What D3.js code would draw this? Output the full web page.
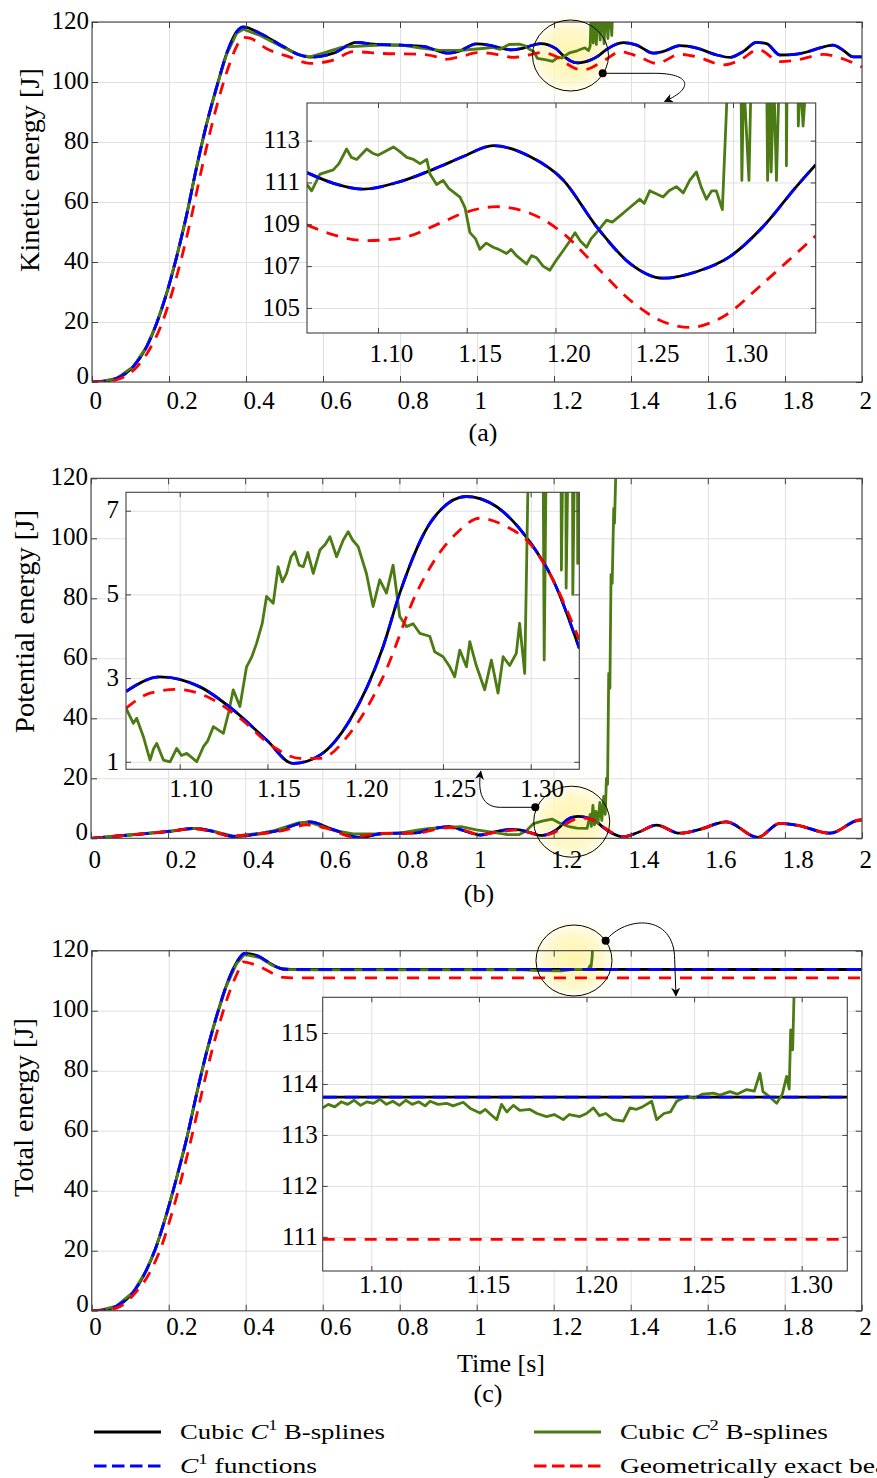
<!DOCTYPE html>
<html><head><meta charset="utf-8">
<script src="https://cdn.jsdelivr.net/npm/d3@7"></script>
<style>
body{margin:0;background:#fff}
svg{display:block}
svg text{font-family:"Liberation Serif","Times New Roman",serif;fill:#000}
</style>
</head><body>
<script>
// ---------------- DATA ----------------
const mainXTicks = [0,0.2,0.4,0.6,0.8,1,1.2,1.4,1.6,1.8,2];
const mainYTicks = [0,20,40,60,80,100,120];
const insetXTicks = [1.10,1.15,1.20,1.25,1.30];
const kinInsetYTicks = [105,107,109,111,113];
const potInsetYTicks = [1,3,5,7];
const totInsetYTicks = [111,112,113,114,115];
const legendLabels = ["Cubic C1 B-splines","Cubic C2 B-splines","C1 functions","Geometrically exact beam"];

// (a) kinetic energy [t, E]
const kineticC1 = [[0,0],[0.02,0.1],[0.064,1.2],[0.107,5.1],[0.142,11.8],[0.168,19.6],[0.194,29.6],[0.22,41.8],[0.246,55.8],[0.272,71.8],[0.298,86.2],[0.324,98.4],[0.35,109.6],[0.376,116.8],[0.393,118.4],[0.437,116.2],[0.497,111.8],[0.54,109],[0.566,108.3],[0.627,109.6],[0.687,113.2],[0.731,112.6],[0.8,112.3],[0.86,111.9],[0.9,110.3],[0.925,109.6],[0.95,110.1],[0.999,112.7],[1.03,112.3],[1.06,111.4],[1.09,110.7],[1.12,111.3],[1.165,112.8],[1.205,111.1],[1.223,108.9],[1.242,107.1],[1.261,106.4],[1.28,106.7],[1.298,107.5],[1.317,108.9],[1.336,110.8],[1.36,112.5],[1.38,113.1],[1.415,112.3],[1.458,109.6],[1.484,110.2],[1.527,112.1],[1.571,111.3],[1.623,109],[1.657,108.2],[1.692,110.2],[1.726,113.2],[1.752,112.8],[1.787,109],[1.83,109.3],[1.857,110],[1.891,111.4],[1.925,112.3],[1.951,110.6],[1.977,108.4],[2,108.4]];
const kineticC1Fn = [[0,0],[0.02,0.1],[0.064,1.2],[0.107,5.1],[0.142,11.8],[0.168,19.6],[0.194,29.6],[0.22,41.8],[0.246,55.8],[0.272,71.8],[0.298,86.2],[0.324,98.4],[0.35,109.6],[0.376,116.8],[0.393,118.3],[0.437,116.2],[0.497,111.8],[0.54,109],[0.566,108.3],[0.627,109.6],[0.687,113.2],[0.731,112.6],[0.8,112.3],[0.86,111.9],[0.9,110.3],[0.925,109.6],[0.95,110.1],[0.999,112.7],[1.03,112.3],[1.06,111.4],[1.09,110.7],[1.12,111.3],[1.165,112.8],[1.205,111.1],[1.223,108.9],[1.242,107.1],[1.261,106.4],[1.28,106.7],[1.298,107.5],[1.317,108.9],[1.336,110.8],[1.36,112.5],[1.38,113.1],[1.415,112.3],[1.458,109.6],[1.484,110.2],[1.527,112.1],[1.571,111.3],[1.623,109],[1.657,108.2],[1.692,110.2],[1.726,113.2],[1.752,112.8],[1.787,109],[1.83,109.3],[1.857,110],[1.891,111.4],[1.925,112.3],[1.951,110.6],[1.977,108.4],[2,108.4]];
const kineticC2 = [[0,0],[0.02,0.1],[0.064,1.2],[0.107,5.1],[0.142,11.8],[0.168,19.6],[0.194,29.6],[0.22,41.8],[0.246,55.8],[0.272,71.8],[0.298,86.2],[0.324,98.4],[0.35,109.4],[0.376,116.3],[0.393,117.6],[0.437,115.5],[0.497,111.5],[0.54,109],[0.566,108.4],[0.6,109.6],[0.65,111.6],[0.7,112],[0.75,112.3],[0.8,112.4],[0.85,111.4],[0.9,110.6],[0.95,110.5],[1.0,111],[1.04,111.5],[1.06,110.9],[1.083,112.5],[1.11,112.6],[1.127,112],[1.135,111],[1.147,110.2],[1.157,107.9],[1.18,107.4],[1.197,106.9],[1.21,108.3],[1.22,108],[1.24,109.7],[1.26,110.4],[1.28,111.4],[1.29,110.5],[1.294,112],[1.297,126],[1.302,113],[1.306,126],[1.31,112.5],[1.315,126],[1.32,114],[1.325,126],[1.33,112.8],[1.335,126],[1.34,114.5],[1.345,126],[1.35,115.5],[1.353,126]];
const kineticGeo = [[0,0],[0.03,0.1],[0.07,1],[0.11,4.2],[0.15,11],[0.18,19],[0.205,28.5],[0.232,41],[0.258,55],[0.284,70.5],[0.31,85],[0.336,97.5],[0.36,107],[0.378,112.5],[0.392,114.9],[0.41,114.6],[0.454,111.1],[0.514,108.3],[0.566,106.2],[0.627,107.3],[0.679,110.1],[0.757,109.5],[0.843,109.3],[0.895,108.4],[0.913,107.5],[0.965,108.7],[1.0,109.8],[1.03,109.6],[1.06,109],[1.094,108.2],[1.135,109],[1.167,109.8],[1.204,108.6],[1.223,107],[1.242,105.4],[1.261,104.3],[1.276,104.1],[1.294,104.6],[1.317,106.2],[1.336,107.6],[1.371,110.1],[1.415,108.7],[1.467,106.2],[1.527,109.2],[1.571,108.4],[1.64,105.7],[1.683,107.3],[1.731,110.8],[1.787,106.8],[1.83,107.3],[1.9,109.2],[1.934,108.4],[2,105]];
// (a) inset
const kinInsetC1 = [[1.06,111.47],[1.075,110.96],[1.0917,110.68],[1.1124,111.04],[1.1349,111.76],[1.148,112.24],[1.1649,112.76],[1.1856,112.24],[1.2043,111.12],[1.2231,108.89],[1.2419,107.13],[1.2606,106.42],[1.2794,106.73],[1.2982,107.45],[1.317,108.89],[1.3357,110.8],[1.3466,111.85]];
const kinInsetC1Fn = [[1.06,111.47],[1.075,110.96],[1.0917,110.68],[1.1124,111.04],[1.1349,111.76],[1.148,112.24],[1.1649,112.76],[1.1856,112.24],[1.2043,111.12],[1.2231,108.89],[1.2419,107.13],[1.2606,106.42],[1.2794,106.73],[1.2982,107.45],[1.317,108.89],[1.3357,110.8],[1.3466,111.85]];
const kinInsetGeo = [[1.06,108.97],[1.075,108.49],[1.0936,108.22],[1.1124,108.33],[1.1349,109.05],[1.148,109.53],[1.1668,109.84],[1.1856,109.53],[1.2043,108.57],[1.2231,106.97],[1.2419,105.38],[1.2606,104.34],[1.2756,104.07],[1.2944,104.58],[1.317,106.18],[1.3357,107.61],[1.3466,108.45]];
const kinInsetC2 = [[1.06,110.9],[1.0626,110.6],[1.0673,111.4],[1.0748,111.6],[1.078,111.9],[1.0823,112.6],[1.085,112.2],[1.088,112.1],[1.0936,112.6],[1.097,112.4],[1.1,112.3],[1.1087,112.7],[1.112,112.5],[1.1162,112.2],[1.12,112.1],[1.1237,111.9],[1.1275,112.1],[1.1293,111.4],[1.133,110.9],[1.1367,111.1],[1.14,110.7],[1.1462,110.3],[1.149,109.8],[1.1518,108.6],[1.155,108.3],[1.1574,107.8],[1.161,108.1],[1.1649,107.9],[1.168,107.8],[1.1724,107.6],[1.175,107.8],[1.178,107.5],[1.1837,107.1],[1.1865,107.5],[1.1893,107.4],[1.193,107.0],[1.1968,106.8],[1.2006,107.3],[1.204,107.7],[1.2081,108.2],[1.211,108.6],[1.214,108.2],[1.2175,107.9],[1.22,108.3],[1.2231,108.6],[1.2288,109.2],[1.232,109.1],[1.2363,109.4],[1.2419,109.8],[1.2475,110.2],[1.25,110.0],[1.2531,110.6],[1.2606,110.3],[1.264,110.6],[1.2681,110.8],[1.272,110.5],[1.2756,111.1],[1.2794,111.5],[1.282,110.8],[1.285,110.2],[1.288,110.6],[1.2906,110.6],[1.294,109.7],[1.2962,114.2],[1.297,116],[1.3045,116],[1.305,111.1],[1.306,116],[1.309,111.1],[1.3102,116],[1.319,116],[1.3195,111.1],[1.321,116],[1.3215,111.5],[1.323,116],[1.3245,111.1],[1.326,116],[1.33,116],[1.3301,111.8],[1.3305,116],[1.3366,116],[1.3368,113.7],[1.338,116],[1.3395,113.7],[1.3413,116]];

// (b) potential energy
const potentialC1 = [[0,0],[0.1,1.1],[0.196,2.2],[0.27,3.3],[0.32,2.2],[0.37,0.6],[0.44,1.6],[0.475,2.3],[0.568,5.5],[0.63,2.8],[0.698,0.3],[0.757,1.6],[0.843,1.8],[0.879,3],[0.931,3.9],[0.966,2.6],[1.01,1.1],[1.05,2.2],[1.089,3],[1.112,2.8],[1.13,2.2],[1.15,1.5],[1.165,0.96],[1.18,1.16],[1.197,2],[1.216,3.75],[1.225,5],[1.244,6.8],[1.263,7.34],[1.28,7.1],[1.299,6.26],[1.313,5.35],[1.328,3.7],[1.381,0.5],[1.42,2],[1.467,4.4],[1.527,1.7],[1.58,3],[1.648,5.5],[1.73,0.3],[1.787,5],[1.83,4.4],[1.917,1.7],[1.995,6.1],[2,6.1]];
const potentialC1Fn = [[0,0],[0.1,1.1],[0.196,2.2],[0.27,3.3],[0.32,2.2],[0.37,0.6],[0.44,1.6],[0.475,2.3],[0.568,5.5],[0.63,2.8],[0.698,0.3],[0.757,1.6],[0.843,1.8],[0.879,3],[0.931,3.9],[0.966,2.6],[1.01,1.1],[1.05,2.2],[1.089,3],[1.112,2.8],[1.13,2.2],[1.15,1.5],[1.165,0.96],[1.18,1.16],[1.197,2],[1.216,3.75],[1.225,5],[1.244,6.8],[1.263,7.34],[1.28,7.1],[1.299,6.26],[1.313,5.35],[1.328,3.7],[1.381,0.5],[1.42,2],[1.467,4.4],[1.527,1.7],[1.58,3],[1.648,5.5],[1.73,0.3],[1.787,5],[1.83,4.4],[1.917,1.7],[1.995,6.1],[2,6.1]];
const potentialGeo = [[0,0],[0.1,1.1],[0.2,2.2],[0.265,3.2],[0.32,2.0],[0.36,0.8],[0.44,1.5],[0.5,2.6],[0.56,4.5],[0.62,3.0],[0.68,0.5],[0.75,1.6],[0.85,1.8],[0.9,3.1],[0.93,3.6],[0.97,2.6],[1.01,1.2],[1.05,2.0],[1.0694,2.3],[1.098,2.73],[1.134,2.04],[1.153,1.36],[1.172,1.05],[1.197,1.7],[1.216,3.0],[1.235,5],[1.258,6.46],[1.271,6.82],[1.286,6.62],[1.311,5.5],[1.328,3.9],[1.381,0.5],[1.42,2],[1.467,4.4],[1.527,1.7],[1.58,3],[1.648,5.5],[1.73,0.3],[1.787,5],[1.83,4.4],[1.917,1.7],[1.995,6.1],[2,6.1]];
const potentialC2 = [[0,0],[0.1,1.1],[0.196,2.3],[0.27,3.3],[0.32,2.2],[0.37,0.7],[0.44,1.7],[0.475,2.6],[0.54,5.2],[0.568,5.3],[0.63,2.6],[0.68,1.5],[0.75,1.5],[0.8,1.7],[0.85,2.8],[0.879,3.3],[0.96,3.9],[1.0,2.8],[1.053,1.8],[1.08,1.2],[1.11,1.2],[1.13,2.6],[1.148,4.9],[1.17,5.7],[1.196,6.4],[1.215,5.1],[1.237,4.0],[1.26,3.4],[1.287,3.3],[1.295,8],[1.298,4],[1.302,11],[1.306,4.5],[1.31,9],[1.315,5],[1.32,12],[1.325,6],[1.33,14],[1.334,8],[1.337,20],[1.34,18],[1.343,55],[1.346,50],[1.349,88],[1.352,85],[1.356,110],[1.358,105],[1.362,125]];
// (b) inset
const potInsetC1 = [[1.0694,2.68],[1.0888,3.03],[1.1115,2.79],[1.1305,2.24],[1.1495,1.52],[1.1647,0.96],[1.1799,1.16],[1.197,2],[1.2159,3.75],[1.2254,5.03],[1.2434,6.75],[1.2633,7.34],[1.2804,7.1],[1.2994,6.26],[1.3127,5.35],[1.3277,3.71]];
const potInsetC1Fn = [[1.0694,2.68],[1.0888,3.03],[1.1115,2.79],[1.1305,2.24],[1.1495,1.52],[1.1647,0.96],[1.1799,1.16],[1.197,2],[1.2159,3.75],[1.2254,5.03],[1.2434,6.75],[1.2633,7.34],[1.2804,7.1],[1.2994,6.26],[1.3127,5.35],[1.3277,3.71]];
const potInsetGeo = [[1.0694,2.28],[1.0831,2.64],[1.0983,2.73],[1.1154,2.56],[1.1343,2.04],[1.1533,1.36],[1.1685,1.08],[1.1799,1.08],[1.197,1.68],[1.2159,3.03],[1.2349,5.03],[1.2482,6.0],[1.2577,6.46],[1.271,6.82],[1.2862,6.62],[1.2994,6.22],[1.3108,5.5],[1.3277,3.91]];
const potInsetC2 = [[1.0694,2.28],[1.0736,1.92],[1.0755,2.04],[1.0793,1.6],[1.0831,1.04],[1.085,1.3],[1.0869,1.44],[1.0907,1.04],[1.0945,1.0],[1.0983,1.32],[1.101,1.15],[1.104,1.2],[1.107,1.1],[1.1097,1.0],[1.1135,1.36],[1.116,1.5],[1.1192,1.84],[1.1249,1.68],[1.128,2.2],[1.1305,2.72],[1.1343,2.32],[1.1381,3.27],[1.141,3.5],[1.1438,3.83],[1.147,4.3],[1.1495,4.95],[1.1533,4.79],[1.1561,5.66],[1.1585,5.3],[1.1609,5.5],[1.1635,5.9],[1.1656,6.02],[1.168,5.7],[1.1704,5.66],[1.173,6.0],[1.1761,5.5],[1.1799,6.06],[1.183,6.2],[1.1856,6.38],[1.1894,5.9],[1.1932,6.3],[1.196,6.5],[1.1985,6.3],[1.2017,6.14],[1.2064,5.5],[1.2102,4.71],[1.214,5.35],[1.2178,5.03],[1.2216,5.7],[1.2254,4.47],[1.2292,4.23],[1.233,4.3],[1.2368,4.07],[1.2425,4.0],[1.2453,3.63],[1.2501,3.51],[1.2539,3.27],[1.2567,3.03],[1.2596,3.67],[1.2634,3.27],[1.2653,3.87],[1.269,3.3],[1.2738,2.72],[1.2776,3.43],[1.2814,2.64],[1.2843,3.51],[1.288,3.3],[1.2918,3.59],[1.2937,4.31],[1.2966,3.11],[1.2975,5.27],[1.299,9],[1.307,9],[1.3077,3.43],[1.309,9],[1.3172,9],[1.3175,5.58],[1.3185,9],[1.32,9],[1.3202,5.15],[1.3215,9],[1.3238,9],[1.324,5.0],[1.3252,9],[1.3266,9],[1.3268,5.74],[1.328,9]];

// (c) total energy
const totalC1 = [[0,0],[0.02,0.1],[0.064,1.5],[0.108,6.2],[0.142,13.5],[0.168,21.5],[0.194,32],[0.22,44],[0.246,57],[0.272,72],[0.298,86],[0.324,98],[0.35,108.5],[0.376,116],[0.397,119.1],[0.436,118],[0.471,115.2],[0.497,113.9],[0.52,113.75],[2,113.74]];
const totalC1Fn = [[0,0],[0.02,0.1],[0.064,1.5],[0.108,6.2],[0.142,13.5],[0.168,21.5],[0.194,32],[0.22,44],[0.246,57],[0.272,72],[0.298,86],[0.324,98],[0.35,108.5],[0.376,116],[0.397,119.1],[0.436,118],[0.471,115.2],[0.497,113.9],[0.52,113.75],[2,113.74]];
const totalGeo = [[0,0],[0.03,0.1],[0.07,1.2],[0.11,5.5],[0.15,12.5],[0.18,21],[0.205,31],[0.232,43.5],[0.258,57],[0.284,71.5],[0.31,85.5],[0.336,97.5],[0.36,107],[0.38,113],[0.393,116.3],[0.42,115.5],[0.454,113.6],[0.48,111.8],[0.497,111.1],[0.52,110.95],[2,110.95]];
const totalC2 = [[0,0],[0.02,0.1],[0.064,1.5],[0.108,6.2],[0.142,13.5],[0.168,21.5],[0.194,32],[0.22,44],[0.246,57],[0.272,72],[0.298,86],[0.324,98],[0.35,108.3],[0.376,115.6],[0.397,118.8],[0.436,117.7],[0.471,115],[0.497,113.8],[0.55,113.6],[1.12,113.65],[1.16,113.35],[1.22,113.3],[1.25,113.75],[1.29,113.85],[1.294,115],[1.297,114.6],[1.3,118],[1.302,126]];
// (c) inset
const totInsetC1 = [[1.0774,113.74],[1.3212,113.74]];
const totInsetC1Fn = [[1.0774,113.74],[1.3212,113.74]];
const totInsetGeo = [[1.0774,110.95],[1.3212,110.95]];
const totInsetC2 = [[1.0774,113.53],[1.08,113.6],[1.083,113.55],[1.086,113.65],[1.089,113.6],[1.092,113.68],[1.095,113.58],[1.098,113.65],[1.101,113.62],[1.104,113.7],[1.107,113.6],[1.11,113.66],[1.113,113.58],[1.116,113.68],[1.119,113.6],[1.122,113.65],[1.125,113.57],[1.1273,113.66],[1.131,113.6],[1.135,113.62],[1.138,113.57],[1.1427,113.64],[1.146,113.52],[1.1505,113.43],[1.153,113.5],[1.1555,113.4],[1.1583,113.3],[1.1605,113.6],[1.163,113.45],[1.166,113.58],[1.169,113.48],[1.1737,113.5],[1.177,113.42],[1.1814,113.36],[1.185,113.4],[1.1892,113.3],[1.192,113.4],[1.1969,113.36],[1.2,113.42],[1.2032,113.53],[1.206,113.38],[1.209,113.42],[1.2125,113.3],[1.2171,113.27],[1.2202,113.53],[1.223,113.5],[1.226,113.55],[1.2303,113.66],[1.2326,113.3],[1.236,113.42],[1.239,113.45],[1.2419,113.66],[1.2466,113.76],[1.25,113.72],[1.254,113.8],[1.2589,113.82],[1.262,113.78],[1.2667,113.85],[1.27,113.8],[1.2744,113.89],[1.278,113.86],[1.2806,114.21],[1.282,113.85],[1.285,113.75],[1.2884,113.62],[1.291,113.8],[1.293,114.15],[1.2942,113.9],[1.2949,115.06],[1.2958,114.67],[1.2969,116.5]];

// ---------------- DRAWING ----------------
const W = 877, H = 1478;
const FONT = '"Liberation Serif","Times New Roman",serif';
const GRID = '#e0e0e0', FRAME = '#404040';
const COL = {c1:'#000000', c2:'#4b7b12', fn:'#0000ff', geo:'#ff0000'};
const LW = 2.8;
const svg = d3.select('body').append('svg').attr('width', W).attr('height', H);
const defs = svg.append('defs');

defs.append('marker').attr('id','arr').attr('viewBox','0 0 10 10').attr('refX',9).attr('refY',5)
  .attr('markerWidth',9).attr('markerHeight',9).attr('markerUnits','userSpaceOnUse').attr('orient','auto')
  .append('path').attr('d','M0,0 L10,5 L0,10 L3,5 Z').attr('fill','#000');

const glow = defs.append('radialGradient').attr('id','glow');
[[0,'#fff3a6',0.95],[0.55,'#fff6bd',0.8],[0.78,'#fffad8',0.45],[1,'#ffffff',0]].forEach(s =>
  glow.append('stop').attr('offset', s[0]).attr('stop-color', s[1]).attr('stop-opacity', s[2]));

function styleGrid(s){ s.select('.domain').remove(); s.selectAll('line').attr('stroke', GRID).attr('stroke-width',1); }

function drawGrid(g, x, y, b, xt, yt){
  g.append('g').attr('transform',`translate(0,${b.y1})`)
    .call(d3.axisBottom(x).tickValues(xt).tickSize(-(b.y1-b.y0)).tickFormat('')).call(styleGrid);
  g.append('g').attr('transform',`translate(${b.x0},0)`)
    .call(d3.axisLeft(y).tickValues(yt).tickSize(-(b.x1-b.x0)).tickFormat('')).call(styleGrid);
}

function drawSeries(g, x, y, series){
  series.forEach(s => {
    const line = d3.line().x(d => x(d[0])).y(d => y(d[1])).curve(s.curve || d3.curveMonotoneX);
    g.append('path').datum(s.data).attr('d', line).attr('fill','none')
      .attr('stroke', s.color).attr('stroke-width', s.w || LW)
      .attr('stroke-dasharray', s.dash || null).attr('stroke-linejoin','round');
  });
}

function drawFrame(g, x, y, b, xt, yt, tl, o){
  const fontSize = 25;
  const gb = g.append('g').attr('transform',`translate(0,${b.y1})`)
    .call(d3.axisBottom(x).tickValues(xt).tickSizeInner(-tl).tickSizeOuter(0).tickFormat(o.xfmt));
  gb.attr('font-family', null).attr('font-size', null);
  gb.select('.domain').remove();
  gb.selectAll('line').attr('stroke', FRAME);
  gb.selectAll('text').attr('y', o.xBase).attr('dy', null).attr('x', o.xdx)
    .attr('text-anchor', o.xAnchor).style('font-size', fontSize+'px').style('font-family', FONT);
  const gt = g.append('g').attr('transform',`translate(0,${b.y0})`)
    .call(d3.axisTop(x).tickValues(xt).tickSizeInner(-tl).tickSizeOuter(0).tickFormat(''));
  gt.select('.domain').remove(); gt.selectAll('line').attr('stroke', FRAME);
  const gl = g.append('g').attr('transform',`translate(${b.x0},0)`)
    .call(d3.axisLeft(y).tickValues(yt).tickSizeInner(-tl).tickSizeOuter(0).tickFormat(o.yfmt));
  gl.attr('font-family', null).attr('font-size', null);
  gl.select('.domain').remove(); gl.selectAll('line').attr('stroke', FRAME);
  gl.selectAll('text').attr('x', -o.yPad).attr('dy','0.33em').attr('text-anchor','end')
    .style('font-size', fontSize+'px').style('font-family', FONT)
    .attr('y', d => (o.zeroShift && d === 0) ? -o.zeroShift : -o.yShift);
  const gr = g.append('g').attr('transform',`translate(${b.x1},0)`)
    .call(d3.axisRight(y).tickValues(yt).tickSizeInner(-tl).tickSizeOuter(0).tickFormat(''));
  gr.select('.domain').remove(); gr.selectAll('line').attr('stroke', FRAME);
  g.append('rect').attr('x', b.x0).attr('y', b.y0).attr('width', b.x1-b.x0).attr('height', b.y1-b.y0)
    .attr('fill','none').attr('stroke', FRAME).attr('stroke-width', 1.1);
}

let clipN = 0;
function clipRect(b){
  const id = 'clip' + (clipN++);
  defs.append('clipPath').attr('id', id).append('rect')
    .attr('x', b.x0).attr('y', b.y0).attr('width', b.x1-b.x0).attr('height', b.y1-b.y0);
  return `url(#${id})`;
}

function makeSeries(c1, c2, fn, geo, greenCurve){
  return [
    {data:c1, color:COL.c1},
    {data:c2, color:COL.c2, curve: greenCurve},
    {data:fn, color:COL.fn, dash:'14,8'},
    {data:geo, color:COL.geo, dash:'12,9'}
  ];
}

// rotated axis title stretched to the measured length
function axisTitle(g, cx, cy, label, target){
  const t = g.append('text').attr('x',0).attr('y',0).attr('text-anchor','middle')
    .attr('dominant-baseline','central').style('font-size','27px').text(label);
  const w = t.node().getComputedTextLength();
  t.attr('transform', `translate(${cx},${cy}) rotate(-90) scale(${target / w},1)`);
}

const fmtMain = d3.format('~g');
const fmtInset = d3.format('.2f');

const panels = [
  { b:{x0:92,x1:862,y0:22,y1:382}, xBase:27,
    series: makeSeries(kineticC1, kineticC2, kineticC1Fn, kineticGeo, d3.curveLinear),
    ylab:'Kinetic energy [J]', ylabPos:[30,170], ylabLen:204, cap:'(a)', capPos:[483,441],
    inset:{ b:{x0:307,x1:815.7,y0:103,y1:333}, xd:[1.06,1.3466], yd:[103.8,114.8], yt:kinInsetYTicks,
      xdx:13, xBase:29, yPad:7,
      series: makeSeries(kinInsetC1, kinInsetC2, kinInsetC1Fn, kinInsetGeo, d3.curveLinear)},
    spy:{c:[1.2429,108.83], dot:[1.3265,102.9], arrow:(d)=>`M${d[0]},${d[1]} L${d[0]+52},${d[1]} C${d[0]+88},${d[1]} ${d[0]+92},${d[1]+15} ${d[0]+62},${d[1]+28}`}
  },
  { b:{x0:91,x1:862,y0:478.3,y1:838.3}, xBase:30,
    series: makeSeries(potentialC1, potentialC2, potentialC1Fn, potentialGeo, d3.curveLinear),
    ylab:'Potential energy [J]', ylabPos:[25,621.5], ylabLen:223, cap:'(b)', capPos:[479,902],
    inset:{ b:{x0:126,x1:579.3,y0:492.3,y1:769.3}, xd:[1.0694,1.3277], yd:[0.82,7.44], yt:potInsetYTicks,
      xdx:11, xBase:28, yPad:7,
      series: makeSeries(potInsetC1, potInsetC2, potInsetC1Fn, potInsetGeo, d3.curveLinear)},
    spy:{c:[1.247,5.53], dot:[1.1525,10.33], arrow:(d)=>`M${d[0]},${d[1]} L${d[0]-35},${d[1]} C${d[0]-53},${d[1]} ${d[0]-58},${d[1]-15} ${d[0]-54.5},${d[1]-36}`}
  },
  { b:{x0:91.7,x1:861.7,y0:950.7,y1:1310.7}, xBase:24.5,
    series: makeSeries(totalC1, totalC2, totalC1Fn, totalGeo, d3.curveLinear),
    ylab:'Total energy [J]', ylabPos:[24,1107.5], ylabLen:179, cap:'(c)', capPos:[488,1402], xlab:'Time [s]', xlabPos:[501,1372],
    inset:{ b:{x0:322.7,x1:847.3,y0:997.3,y1:1271}, xd:[1.0774,1.3212], yd:[110.33,115.7], yt:totInsetYTicks,
      xdx:9, xBase:22, yPad:5,
      series: makeSeries(totInsetC1, totInsetC2, totInsetC1Fn, totInsetGeo, d3.curveLinear)},
    spy:{c:[1.2527,116.73], dot:[1.335,123.3], arrow:(d)=>`M${d[0]},${d[1]} C${d[0]+19},${d[1]-25} ${d[0]+69},${d[1]-28} ${d[0]+69},${d[1]+19} L${d[0]+70.3},${d[1]+55}`}
  }
];

panels.forEach(p => {
  const b = p.b;
  const x = d3.scaleLinear().domain([0,2]).range([b.x0, b.x1]);
  const y = d3.scaleLinear().domain([0,120]).range([b.y1, b.y0]);
  const g = svg.append('g');
  drawGrid(g, x, y, b, mainXTicks, mainYTicks);
  const cx = x(p.spy.c[0]), cy = y(p.spy.c[1]);
  g.append('ellipse').attr('cx', cx).attr('cy', cy).attr('rx', 50).attr('ry', 47).attr('fill','url(#glow)');
  const cg = g.append('g').attr('clip-path', clipRect(b));
  drawSeries(cg, x, y, p.series);
  drawFrame(g, x, y, b, mainXTicks, mainYTicks, 6,
    {xfmt: fmtMain, yfmt: fmtMain, xBase: p.xBase, xdx: -3, xAnchor:'start', yPad: 3, yShift: 2, zeroShift: 7});
  g.append('ellipse').attr('cx', cx).attr('cy', cy).attr('rx', 38).attr('ry', 35.5)
    .attr('fill','none').attr('stroke','#000').attr('stroke-width',1);
  axisTitle(g, p.ylabPos[0], p.ylabPos[1], p.ylab, p.ylabLen);
  g.append('text').attr('x', p.capPos[0]).attr('y', p.capPos[1]).attr('text-anchor','middle')
    .style('font-size','26px').text(p.cap);
  if (p.xlab) g.append('text').attr('x', p.xlabPos[0]).attr('y', p.xlabPos[1]).attr('text-anchor','middle')
    .style('font-size','26px').text(p.xlab);

  const ib = p.inset.b;
  const ix = d3.scaleLinear().domain(p.inset.xd).range([ib.x0, ib.x1]);
  const iy = d3.scaleLinear().domain(p.inset.yd).range([ib.y1, ib.y0]);
  const ig = svg.append('g');
  ig.append('rect').attr('x', ib.x0).attr('y', ib.y0).attr('width', ib.x1-ib.x0).attr('height', ib.y1-ib.y0).attr('fill','#fff');
  drawGrid(ig, ix, iy, ib, insetXTicks, p.inset.yt);
  const icg = ig.append('g').attr('clip-path', clipRect(ib));
  drawSeries(icg, ix, iy, p.inset.series);
  drawFrame(ig, ix, iy, ib, insetXTicks, p.inset.yt, 5,
    {xfmt: fmtInset, yfmt: d3.format('d'), xBase: p.inset.xBase, xdx: p.inset.xdx, xAnchor:'middle', yPad: p.inset.yPad, yShift: 1});

  const dot = [x(p.spy.dot[0]), y(p.spy.dot[1])];
  svg.append('path').attr('d', p.spy.arrow(dot)).attr('fill','none').attr('stroke','#000')
    .attr('stroke-width',1).attr('marker-end','url(#arr)');
  svg.append('circle').attr('cx', dot[0]).attr('cy', dot[1]).attr('r', 4).attr('fill','#000');
});

// legend
const legend = svg.append('g');
const legItems = [
  {label: legendLabels[0], color: COL.c1, dash: null, x: 94, y: 1432, sup: true, target: 205},
  {label: legendLabels[1], color: COL.c2, dash: null, x: 534, y: 1432, sup: true, target: 208},
  {label: legendLabels[2], color: COL.fn, dash: '12.5,5.5', x: 94, y: 1466, sup: true, target: 137},
  {label: legendLabels[3], color: COL.geo, dash: '12.5,5.5', x: 534, y: 1466, sup: false, target: null}
];
let lastScale = 1.2;
legItems.forEach(it => {
  legend.append('line').attr('x1', it.x).attr('x2', it.x + 67).attr('y1', it.y).attr('y2', it.y)
    .attr('stroke', it.color).attr('stroke-width', 3).attr('stroke-dasharray', it.dash);
  const t = legend.append('text').attr('x', 0).attr('y', 0).style('font-size','22px');
  const m = it.label.match(/^(.*?)C(\d)(.*)$/);
  if (it.sup && m) {
    if (m[1]) t.append('tspan').text(m[1]);
    t.append('tspan').style('font-style','italic').text('C');
    t.append('tspan').attr('dy', -9).style('font-size','15px').text(m[2]);
    t.append('tspan').attr('dy', 9).text(m[3]);
  } else {
    t.text(it.label);
  }
  const w = t.node().getBBox().width;
  const sx = it.target ? it.target / w : lastScale;
  if (it.target) lastScale = sx;
  t.attr('transform', `translate(${it.x + 86},${it.y + 7}) scale(${sx},1)`);
});
</script>
</body></html>
